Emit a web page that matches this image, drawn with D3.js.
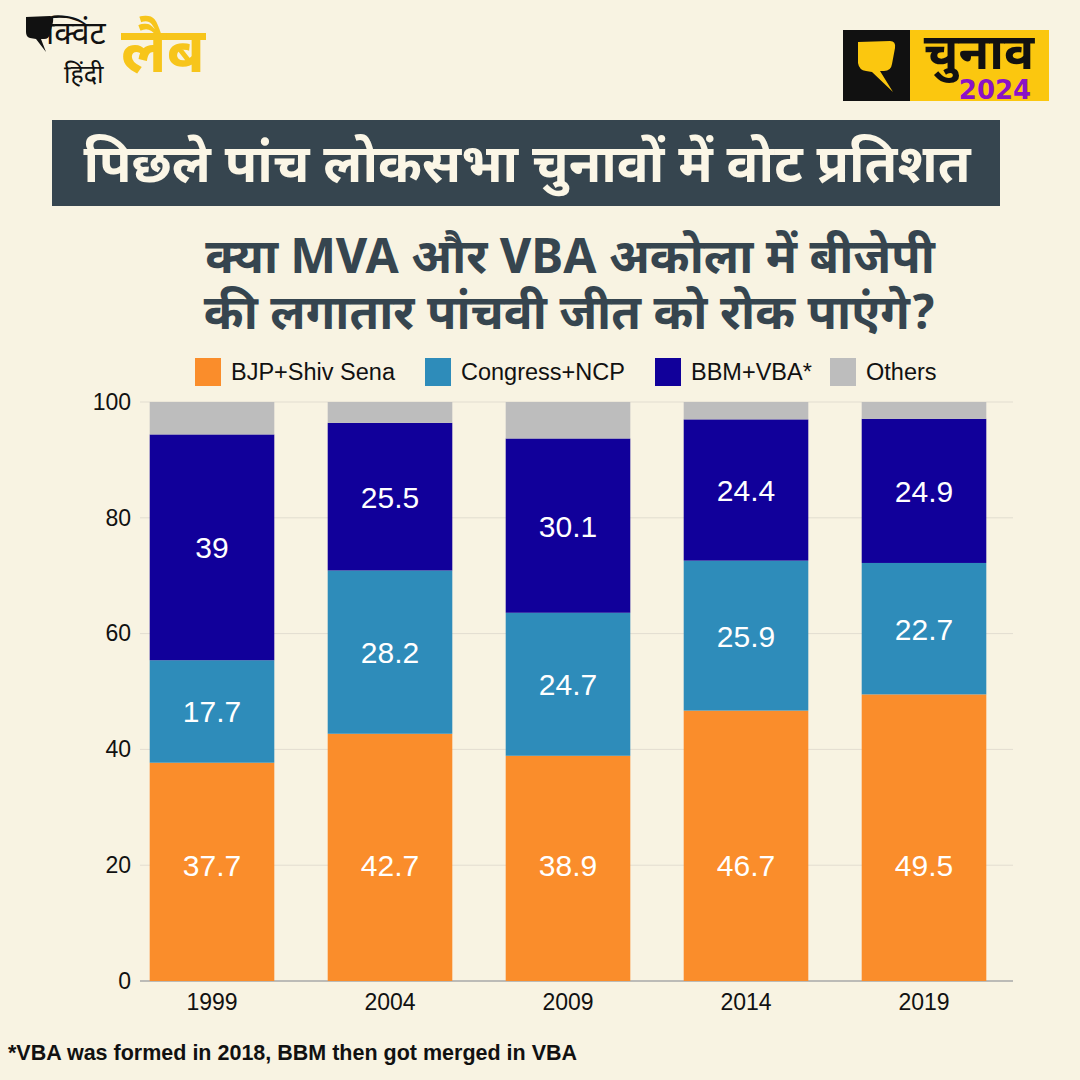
<!DOCTYPE html>
<html><head><meta charset="utf-8">
<script src="https://cdn.jsdelivr.net/npm/d3@7"></script>
<style>html,body{margin:0;padding:0;background:#f8f3e2;}svg{display:block;}</style>
</head><body>
<script>
const years = ["1999","2004","2009","2014","2019"];
const seriesNames = ["BJP+Shiv Sena","Congress+NCP","BBM+VBA*","Others"];
const bjpShivSena = [37.7, 42.7, 38.9, 46.7, 49.5];
const congressNcp = [17.7, 28.2, 24.7, 25.9, 22.7];
const bbmVba = [39, 25.5, 30.1, 24.4, 24.9];
const others = [5.6, 3.6, 6.3, 3.0, 2.9];
const yTicks = [0, 20, 40, 60, 80, 100];
const colors = ["#fa8d2b", "#2e8cba", "#11009a", "#bdbdbd"];

const W = 1080, H = 1080;
const svg = d3.select("body").append("svg").attr("width", W).attr("height", H);
const DEV = "'Noto Sans Devanagari','Noto Sans',sans-serif";
const LAT = "'Liberation Sans',Arial,sans-serif";

svg.append("rect").attr("width", W).attr("height", H).attr("fill", "#f8f3e2");

// Top-left logo
const tl = svg.append("g");
tl.append("path").attr("d","M26,17 L50,16 Q54,16 53,22 L50,34 Q49,39 44,39 L41,39 L46,52 L36,39 L30,38 Q26,37 26,32 Z").attr("fill","#111");
const tlt = tl.append("text").attr("font-family",DEV).attr("fill","#111");
tlt.append("tspan").attr("x",46).attr("y",44).attr("font-size",32).text("क्विंट");
tlt.append("tspan").attr("x",64).attr("y",83).attr("font-size",25).text("हिंदी");
tl.append("text").attr("x",121).attr("y",72).attr("font-family",DEV).attr("font-weight","bold").attr("font-size",62).attr("fill","#f7c51b").text("लैब");

// Top-right logo
const tr = svg.append("g");
tr.append("rect").attr("x",843).attr("y",30).attr("width",68).attr("height",71).attr("fill","#111");
tr.append("rect").attr("x",910).attr("y",30).attr("width",139).attr("height",71).attr("fill","#fbc70f");
tr.append("path").attr("d","M858,42 L890,41 Q896,41 895,48 L892,64 Q891,71 884,71 L880,71 L893,92 L872,72 L866,71 Q859,70 858,63 Z").attr("fill","#fbc70f");
const trt = tr.append("text").attr("text-anchor","middle").attr("font-weight","bold");
trt.append("tspan").attr("x",979).attr("y",69).attr("font-family",DEV).attr("font-size",50).attr("fill","#111").text("चुनाव");
trt.append("tspan").attr("x",995).attr("y",99).attr("font-family","'DejaVu Sans',sans-serif").attr("font-size",26).attr("fill","#8b12c6").text("2024");

// Title banner
svg.append("rect").attr("x",52).attr("y",120).attr("width",948).attr("height",86).attr("fill","#36454f");
svg.append("text").attr("x",527).attr("y",182).attr("text-anchor","middle").attr("font-family",DEV).attr("font-weight","bold").attr("font-size",53).attr("fill","#fbf6e6").text("पिछले पांच लोकसभा चुनावों में वोट प्रतिशत");

// Subtitle
const sub = ["क्या MVA और VBA अकोला में बीजेपी","की लगातार पांचवी जीत को रोक पाएंगे?"];
svg.append("text").attr("text-anchor","middle").attr("font-family",DEV).attr("font-weight","bold")
  .attr("font-size",48).attr("fill","#36454f")
  .selectAll("tspan").data(sub).enter().append("tspan")
  .attr("x",570).attr("y",(d,i)=>273+i*56).text(d=>d);

// Legend
const legX = [195, 425, 655, 830];
const leg = svg.selectAll("g.leg").data(seriesNames).enter().append("g").attr("class","leg")
  .attr("transform",(d,i)=>`translate(${legX[i]},358)`);
leg.append("rect").attr("width",26).attr("height",28).attr("fill",(d,i)=>colors[i]);
leg.append("text").attr("x",36).attr("y",22).attr("font-family",LAT).attr("font-size",23.5).attr("fill","#111").text(d=>d);

// Chart
const y = d3.scaleLinear().domain([0,100]).range([981,402]);
const x = d3.scaleBand().domain(years).range([123,1013]).paddingInner(0.3).paddingOuter(0.15);

const grid = svg.append("g");
grid.selectAll("line").data(yTicks).enter().append("line")
  .attr("x1",140).attr("x2",1013).attr("y1",d=>y(d)).attr("y2",d=>y(d))
  .attr("stroke",d=>d===0?"#a9a9a9":"#e2ddd0").attr("stroke-width",d=>d===0?1.5:1);

const yAxis = svg.append("g").attr("transform","translate(140,0)")
  .call(d3.axisLeft(y).tickValues(yTicks).tickSize(0).tickPadding(9));
yAxis.select(".domain").remove();
yAxis.selectAll("text").attr("font-family",LAT).attr("font-size",23).attr("fill","#111");

const xAxis = svg.append("g").attr("transform","translate(0,981)")
  .call(d3.axisBottom(x).tickSize(0).tickPadding(13));
xAxis.select(".domain").remove();
xAxis.selectAll("text").attr("font-family",LAT).attr("font-size",23).attr("fill","#111");

const rows = years.map((yr,i)=>({year:yr, s0:bjpShivSena[i], s1:congressNcp[i], s2:bbmVba[i], s3:others[i]}));
const stack = d3.stack().keys(["s0","s1","s2","s3"])(rows);

const layers = svg.selectAll("g.layer").data(stack).enter().append("g").attr("class","layer")
  .attr("fill",(d,i)=>colors[i]);
layers.selectAll("rect").data(d=>d).enter().append("rect")
  .attr("x",d=>x(d.data.year)).attr("width",x.bandwidth())
  .attr("y",d=>y(d[1])).attr("height",d=>y(d[0])-y(d[1]));

// Value labels (not for Others)
stack.slice(0,3).forEach((layer,li)=>{
  svg.append("g").selectAll("text").data(layer).enter().append("text")
    .attr("x",d=>x(d.data.year)+x.bandwidth()/2)
    .attr("y",d=>{ const mid = li===0 ? 20 : (d[0]+d[1])/2; return y(mid)+11; })
    .attr("text-anchor","middle").attr("font-family",LAT).attr("font-size",30).attr("fill","#fff")
    .text(d=>d3.format("~")(+(d[1]-d[0]).toFixed(1)));
});

// Footnote
svg.append("text").attr("x",8).attr("y",1060).attr("font-family",LAT).attr("font-weight","bold").attr("font-size",21.5).attr("fill","#111")
  .text("*VBA was formed in 2018, BBM then got merged in VBA");
</script>
</body></html>
